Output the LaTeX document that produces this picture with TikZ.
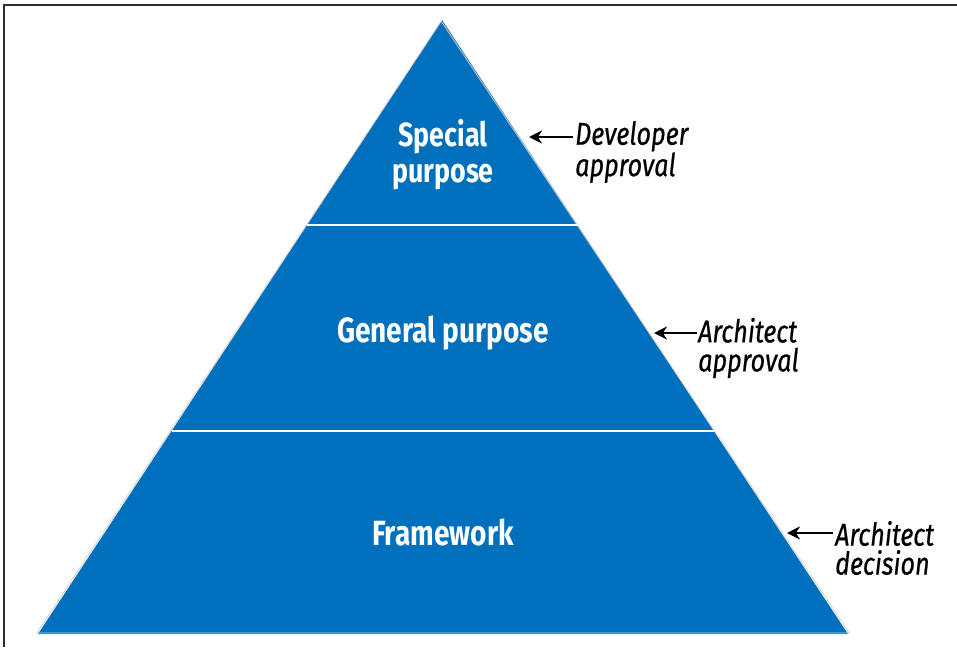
\documentclass[tikz,border=0pt]{standalone}
\usepackage{fontspec}
\setmainfont{Fira Sans}
\newfontfamily\tierfont[FakeStretch=0.8]{Fira Sans}
\newfontfamily\notefont[FakeStretch=0.8,FakeBold=0.6]{Fira Sans}
\usetikzlibrary{arrows.meta}
\definecolor{pyblue}{RGB}{0,112,189}
\definecolor{frame}{RGB}{45,45,45}
\begin{document}
\begin{tikzpicture}[x=1pt,y=-1pt,
  tier/.style={text=white,align=center,font=\tierfont\bfseries},
  note/.style={anchor=west,align=left,font=\notefont\itshape\fontsize{31.5}{29}\selectfont,inner sep=0pt},
  arr/.style={line width=2.7pt,-{Stealth[length=13pt,width=13pt]}}]
\useasboundingbox (0,0) rectangle (957,647);
\draw[frame,line width=1.8pt] (4,647) -- (4,5) -- (957,5);
% pyramid
\coordinate (A) at (442,20);
\coordinate (BL) at (38,634);
\coordinate (BR) at (848,634);
\fill[pyblue] (A) -- (BL) -- (BR) -- cycle;
\draw[black!18,line width=0.8pt] ([xshift=-0.8,yshift=-1.2]A) -- ([xshift=-1.2,yshift=1]BL) -- ([xshift=1.2,yshift=1]BR) -- cycle;
\coordinate (L1) at (307.1,225); \coordinate (R1) at (577.6,225);
\coordinate (L2) at (171.6,431); \coordinate (R2) at (713.8,431);
\draw[white,line width=2.6pt] (L1) -- (R1);
\draw[white,line width=2.6pt] (L2) -- (R2);
% tier labels
\node[tier,font=\tierfont\bfseries\fontsize{33.5}{36}\selectfont] (special) at (443,155) {Special\\purpose};
\node[tier,font=\tierfont\bfseries\fontsize{35}{38}\selectfont] (general) at (443,333) {General purpose};
\node[tier,font=\tierfont\bfseries\fontsize{35}{38}\selectfont] (framework) at (443,533) {Framework};
% notes
\node[note] (dev) at (575,152) {Developer\\approval};
\node[note] (archa) at (698,348) {Architect\\approval};
\node[note] (archd) at (835,548) {Architect\\decision};
\coordinate (s1) at (573,137); \coordinate (t1) at (529,137);
\coordinate (s2) at (697,333); \coordinate (t2) at (654,333);
\coordinate (s3) at (833,533); \coordinate (t3) at (787,533);
\draw[arr] (s1) -- (t1);
\draw[arr] (s2) -- (t2);
\draw[arr] (s3) -- (t3);
\end{tikzpicture}
\end{document}
